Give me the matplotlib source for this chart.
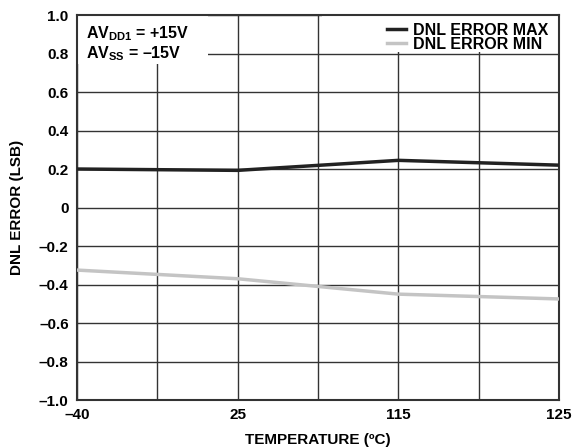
"""DNL error vs temperature."""

import matplotlib
matplotlib.use("Agg")
import matplotlib.pyplot as plt
from matplotlib.patches import Rectangle

# data
temp_labels = ["–40", "25", "115", "125"]
temp_pos = [0, 2, 4, 6]
dnl_max = [0.20, 0.193, 0.245, 0.22]
dnl_min = [-0.325, -0.37, -0.45, -0.475]
y_ticks = [-1.0, -0.8, -0.6, -0.4, -0.2, 0, 0.2, 0.4, 0.6, 0.8, 1.0]
y_labels = ["–1.0", "–0.8", "–0.6", "–0.4", "–0.2", "0", "0.2", "0.4", "0.6", "0.8", "1.0"]

plt.rcParams["font.family"] = ["Liberation Sans", "DejaVu Sans"]
plt.rcParams["font.weight"] = "bold"
plt.rcParams["mathtext.fontset"] = "custom"
plt.rcParams["mathtext.rm"] = "Liberation Sans:bold"
plt.rcParams["mathtext.bf"] = "Liberation Sans:bold"

fig = plt.figure(figsize=(5.85, 4.48), dpi=100)
ax = fig.add_axes([0.1316, 0.1071, 0.824, 0.8594])

ax.plot(temp_pos, dnl_max, color="#222222", lw=2.5, label="DNL ERROR MAX", zorder=3)
ax.plot(temp_pos, dnl_min, color="#c4c4c4", lw=2.5, label="DNL ERROR MIN", zorder=3)

ax.set_xlim(0, 6)
ax.set_ylim(-1.0, 1.0)
ax.set_xticks(range(7))
xl = ["", "", "", "", "", "", ""]
for p, t in zip(temp_pos, temp_labels):
    xl[p] = t
ax.set_xticklabels(xl)
ax.set_yticks(y_ticks)
ax.set_yticklabels(y_labels)
ax.tick_params(axis="x", length=0, labelsize=11, pad=6)
ax.tick_params(axis="y", length=0, labelsize=11, pad=6)
for lbl in ax.get_xticklabels() + ax.get_yticklabels():
    lbl.set_fontweight("bold")

ax.grid(True, color="#333333", lw=1.0)
ax.set_axisbelow(True)
for sp in ax.spines.values():
    sp.set_color("#333333")
    sp.set_linewidth(1.5)

ax.set_xlabel("TEMPERATURE (ºC)", fontsize=11, fontweight="bold", labelpad=8)
ax.set_ylabel("DNL ERROR (LSB)", fontsize=11, fontweight="bold", labelpad=11)

# white boxes that cut the grid behind the legend and the supply note
ax.add_patch(Rectangle((0.0, 0.873), 0.272, 0.127, transform=ax.transAxes,
                       facecolor="white", edgecolor="none", zorder=2))
ax.add_patch(Rectangle((0.508, 0.905), 0.492, 0.095, transform=ax.transAxes,
                       facecolor="white", edgecolor="none", zorder=2))

leg = ax.legend(loc="upper right", fontsize=11.5, frameon=False,
                handlelength=1.2, handletextpad=0.4, borderpad=0.25,
                labelspacing=-0.05, borderaxespad=0.0,
                bbox_to_anchor=(0.985, 0.99))
for t in leg.get_texts():
    t.set_fontweight("bold")

ax.text(0.018, 0.975, "AV$_{\\mathrm{DD1}}$ = +15V\nAV$_{\\mathrm{SS}}$ = –15V",
        transform=ax.transAxes, ha="left", va="top", fontsize=11.5,
        fontweight="bold", linespacing=1.05, zorder=4)

fig.savefig("out.png", dpi=100)
